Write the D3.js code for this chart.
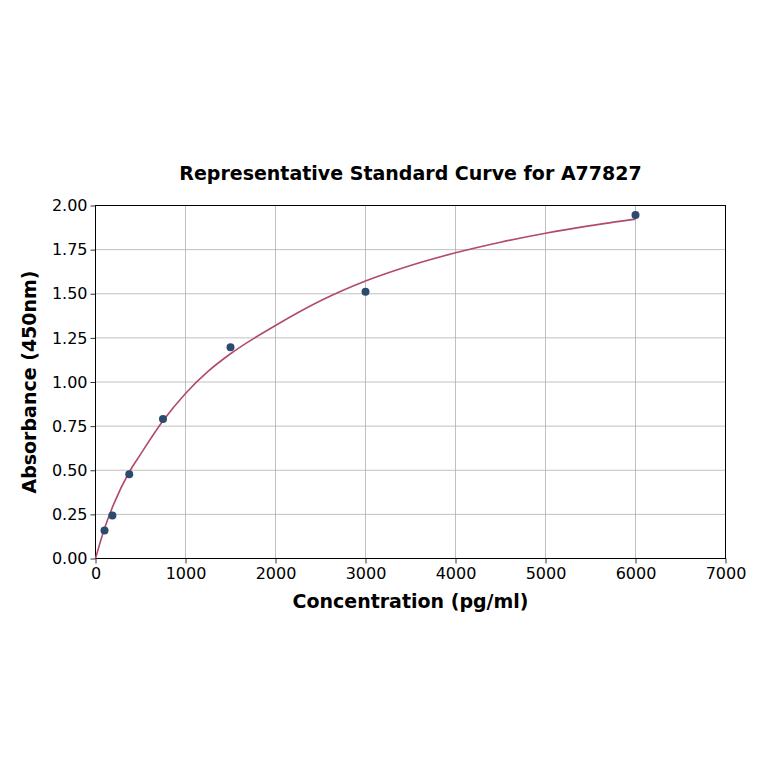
<!DOCTYPE html>
<html>
<head>
<meta charset="utf-8">
<script src="https://cdn.jsdelivr.net/npm/d3@7"></script>
<style>
  body { margin: 0; background: #fff; }
  svg { font-family: "DejaVu Sans", sans-serif; }
</style>
</head>
<body>
<div id="chart"></div>
<script>
// standards
const concentrations = [100, 187.5, 375, 750, 1500, 3000, 6000];
const absorbances = [0.158, 0.244, 0.477, 0.790, 1.197, 1.511, 1.946];

// fitted curve
const curveX = [0, 100, 200, 375, 500, 750, 1000, 1250, 1500, 2000, 2500, 3000, 3500, 4000, 4500, 5000, 5500, 6000];
const curveY = [0, 0.17, 0.305, 0.49, 0.59, 0.78, 0.935, 1.06, 1.16, 1.32, 1.46, 1.572, 1.66, 1.732, 1.792, 1.843, 1.886, 1.923];

const xTicks = [0, 1000, 2000, 3000, 4000, 5000, 6000, 7000];
const yTicks = [0, 0.25, 0.5, 0.75, 1.0, 1.25, 1.5, 1.75, 2.0];

const config = {
  width: 764,
  height: 764,
  left: 95.5,
  right: 725.5,
  top: 205.5,
  bottom: 558.5
};

const svg = d3.select('#chart')
  .append('svg')
  .attr('width', config.width)
  .attr('height', config.height);

const x = d3.scaleLinear().domain([0, 7000]).range([config.left, config.right]);
const y = d3.scaleLinear().domain([0, 2]).range([config.bottom, config.top]);

// grid
svg.append('g')
  .selectAll('line.vg')
  .data(xTicks)
  .enter()
  .append('line')
  .attr('x1', d => x(d)).attr('x2', d => x(d))
  .attr('y1', config.top).attr('y2', config.bottom)
  .style('stroke', '#b0b0b0')
  .style('stroke-width', 0.8);

svg.append('g')
  .selectAll('line.hg')
  .data(yTicks)
  .enter()
  .append('line')
  .attr('x1', config.left).attr('x2', config.right)
  .attr('y1', d => y(d)).attr('y2', d => y(d))
  .style('stroke', '#b0b0b0')
  .style('stroke-width', 0.8);

// axes
const xAxis = svg.append('g')
  .attr('transform', `translate(0,${config.bottom})`)
  .call(d3.axisBottom(x).tickValues(xTicks).tickFormat(d3.format('d')).tickSize(5).tickSizeOuter(0));

const yAxis = svg.append('g')
  .attr('transform', `translate(${config.left},0)`)
  .call(d3.axisLeft(y).tickValues(yTicks).tickFormat(d3.format('.2f')).tickSize(5).tickSizeOuter(0));

[xAxis, yAxis].forEach(a => {
  a.selectAll('text')
    .style('font-family', '"DejaVu Sans", sans-serif')
    .style('font-size', '16px')
    .style('fill', '#000');
  a.selectAll('line').style('stroke', '#000').style('stroke-width', 0.8);
  a.select('.domain').remove();
});
xAxis.selectAll('text').attr('y', 8).attr('dy', '0.78em');
yAxis.selectAll('text').attr('x', -8);

// frame
svg.append('rect')
  .attr('x', config.left).attr('y', config.top)
  .attr('width', config.right - config.left)
  .attr('height', config.bottom - config.top)
  .style('fill', 'none')
  .style('stroke', '#000')
  .style('stroke-width', 1);

// fitted curve
const line = d3.line()
  .x(d => x(d[0]))
  .y(d => y(d[1]))
  .curve(d3.curveMonotoneX);

svg.append('path')
  .datum(curveX.map((c, i) => [c, curveY[i]]))
  .attr('d', line)
  .style('fill', 'none')
  .style('stroke', '#b14a6c')
  .style('stroke-width', 1.6);

// points
svg.append('g')
  .selectAll('circle')
  .data(concentrations.map((c, i) => [c, absorbances[i]]))
  .enter()
  .append('circle')
  .attr('cx', d => x(d[0]))
  .attr('cy', d => y(d[1]))
  .attr('r', 4)
  .style('fill', '#2b4a6d');

// titles
svg.append('text')
  .attr('x', (config.left + config.right) / 2)
  .attr('y', 180)
  .attr('text-anchor', 'middle')
  .style('font-size', '19px')
  .style('font-weight', 'bold')
  .text('Representative Standard Curve for A77827');

svg.append('text')
  .attr('x', (config.left + config.right) / 2)
  .attr('y', 608)
  .attr('text-anchor', 'middle')
  .style('font-size', '19px')
  .style('font-weight', 'bold')
  .text('Concentration (pg/ml)');

svg.append('text')
  .attr('transform', `translate(36,${(config.top + config.bottom) / 2}) rotate(-90)`)
  .attr('text-anchor', 'middle')
  .style('font-size', '19px')
  .style('font-weight', 'bold')
  .text('Absorbance (450nm)');
</script>
</body>
</html>
